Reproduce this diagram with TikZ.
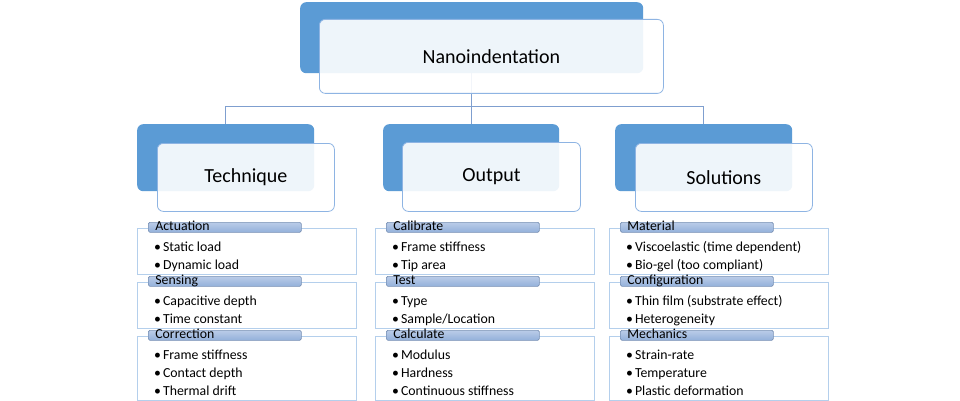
\documentclass[tikz,border=0pt]{standalone}
\usepackage{fontspec}
\setmainfont{Carlito}
\usetikzlibrary{positioning}

\begin{document}
\begin{tikzpicture}[x=1pt, y=-1pt,
    backbox/.style={fill=darkbox, rounded corners=6pt, anchor=north west, inner sep=0},
    frontbox/.style={draw=frontline, line width=0.8pt, fill=white, fill opacity=0.9, text opacity=1,
      rounded corners=6pt, anchor=north west, inner sep=0, font=\fontsize{20}{22}\selectfont},
    panel/.style={draw=panelline, line width=0.9pt, fill=white, anchor=north west,
      minimum width=219, inner sep=0},
    tab/.style={draw=tabline, line width=0.7pt, top color=tabtop, bottom color=tabbot,
      rounded corners=1.5pt, anchor=north west, inner xsep=7pt, inner ysep=0,
      text width=139pt, align=left, text height=8.5pt, text depth=1.5pt,
      font=\fontsize{13.8}{16}\selectfont},
    bulletitem/.style={anchor=base west, inner sep=0, font=\fontsize{13.8}{16}\selectfont},
    conn/.style={draw=connline, line width=0.9pt}]

  % Colors
  \definecolor{darkbox}{HTML}{5B9BD5}
  \definecolor{frontline}{HTML}{8EB4E3}
  \definecolor{panelline}{HTML}{B4CFEC}
  \definecolor{tabline}{HTML}{7890B4}
  \definecolor{tabtop}{HTML}{BACCE8}
  \definecolor{tabbot}{HTML}{93B0DA}
  \definecolor{connline}{HTML}{7F9FCF}

  \useasboundingbox[fill=white] (0,0) rectangle (960,401);

  % one sub panel: name, left x, top y, height, header, items
  \def\subpanel#1#2#3#4#5#6{%
    \node[panel, minimum height=#4] (#1) at (#2,#3) {};
    \node[tab] (#1-tab) at ([xshift=11pt, yshift=6pt]#1.north west) {#5};
    \foreach \txt [count=\i] in {#6}
      \node[bulletitem] at ([xshift=17pt, yshift=-5pt-18pt*\i]#1.north west) {\textbullet\hspace{2pt}\txt};
  }

  % Bus between the levels
  \coordinate (bus) at (472,106);

  % Top level
  \node[backbox, minimum width=343, minimum height=71] (topback) at (300,2) {};

  % Second level, back boxes
  \node[backbox, minimum width=177, minimum height=67] (techback) at (137,124) {};
  \node[backbox, minimum width=176, minimum height=67] (outback) at (383,124) {};
  \node[backbox, minimum width=177, minimum height=67] (solback) at (615,124) {};

  % Connectors
  \draw[conn] (topback.south) -- (topback.south |- bus);
  \draw[conn] (techback.north) -- (techback.north |- bus) -- (solback.north |- bus) -- (solback.north);
  \draw[conn] (outback.north) -- (outback.north |- bus);

  % Front boxes
  \node[frontbox, minimum width=344, minimum height=74] (top) at (319,19) {Nanoindentation};
  \node[frontbox, minimum width=177, minimum height=68] (tech) at (157,143) {Technique};
  \node[frontbox, minimum width=178, minimum height=69] (out) at (402,142) {Output};
  \node[frontbox, minimum width=177, minimum height=68] (sol) at (635,143) {Solutions};

  % Technique column
  \subpanel{tech-act}{137}{228}{46}{Actuation}{Static load, Dynamic load}
  \subpanel{tech-sens}{137}{282}{46}{Sensing}{Capacitive depth, Time constant}
  \subpanel{tech-corr}{137}{336}{64}{Correction}{Frame stiffness, Contact depth, Thermal drift}

  % Output column
  \subpanel{out-cal}{375}{228}{46}{Calibrate}{Frame stiffness, Tip area}
  \subpanel{out-test}{375}{282}{46}{Test}{Type, Sample/Location}
  \subpanel{out-calc}{375}{336}{64}{Calculate}{Modulus, Hardness, Continuous stiffness}

  % Solutions column
  \subpanel{sol-mat}{609}{228}{46}{Material}{Viscoelastic (time dependent), Bio-gel (too compliant)}
  \subpanel{sol-conf}{609}{282}{46}{Configuration}{Thin film (substrate effect), Heterogeneity}
  \subpanel{sol-mech}{609}{336}{64}{Mechanics}{Strain-rate, Temperature, Plastic deformation}

\end{tikzpicture}
\end{document}
